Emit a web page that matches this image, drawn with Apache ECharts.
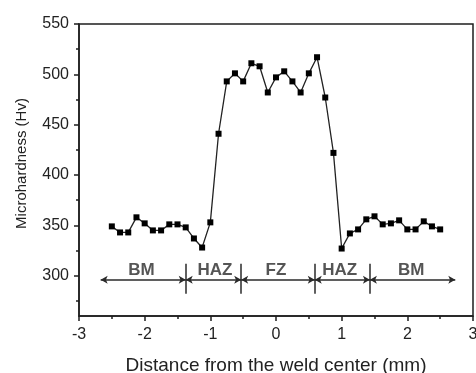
<!DOCTYPE html>
<html>
<head>
<meta charset="utf-8">
<script src="https://cdn.jsdelivr.net/npm/echarts@6/dist/echarts.min.js"></script>
<style>
  html, body { margin: 0; padding: 0; background: #fff; }
  #chart { width: 476px; height: 373px; }
</style>
</head>
<body>
<div id="chart"></div>
<script>
// measured points (mm from weld center, Hv)
const distance = [
  -2.5, -2.375, -2.25, -2.125, -2.0, -1.875, -1.75, -1.625, -1.5, -1.375, -1.25, -1.125, -1.0,
  -0.875, -0.75, -0.625, -0.5, -0.375, -0.25, -0.125, 0, 0.125, 0.25, 0.375, 0.5, 0.625, 0.75, 0.875,
  1.0, 1.125, 1.25, 1.375, 1.5, 1.625, 1.75, 1.875, 2.0, 2.125, 2.25, 2.375, 2.5
];
const hardness = [
  349, 343, 343, 358, 352, 345, 345, 351, 351, 348, 337, 328, 353,
  441, 493, 501, 493, 511, 508, 482, 497, 503, 493, 482, 501, 517, 477, 422,
  327, 342, 346, 356, 359, 351, 352, 355, 346, 346, 354, 349, 346
];

// zone markers
const zoneBounds = [-2.67, -1.375, -0.53, 0.59, 1.43, 2.73];
const zoneNames = ['BM', 'HAZ', 'FZ', 'HAZ', 'BM'];
const zoneLabelX = [-2.05, -0.93, 0.0, 0.97, 2.06];
const arrowY = 296;
const sepTop = 312, sepBottom = 282;
const labelY = 305;

const yMajor = [300, 350, 400, 450, 500, 550];
const yMinor = [275, 325, 375, 425, 475, 525];

const ink = '#1e1e1e';
const textColor = '#222';
const font = 'Liberation Sans';

const arrows = [];
for (let i = 0; i < zoneBounds.length - 1; i++) {
  arrows.push([{ coord: [zoneBounds[i], arrowY] }, { coord: [zoneBounds[i + 1], arrowY] }]);
}
const seps = zoneBounds.slice(1, -1).map(x => [
  { coord: [x, sepBottom] }, { coord: [x, sepTop] }
]);

const chart = echarts.init(document.getElementById('chart'));
chart.setOption({
  animation: false,
  grid: {
    left: 79, right: 3, top: 24, bottom: 57,
    outerBoundsMode: 'none',
    containLabel: false,
    show: true, borderColor: ink, borderWidth: 1.5
  },
  xAxis: {
    type: 'value', min: -3, max: 3, interval: 1,
    name: 'Distance from the weld center (mm)',
    nameLocation: 'middle', nameGap: 40,
    nameTextStyle: { fontFamily: font, fontSize: 19, color: textColor },
    axisLine: { onZero: false, lineStyle: { color: ink, width: 1.5 } },
    axisTick: { inside: false, length: 5, lineStyle: { color: ink, width: 1.5 } },
    minorTick: { show: true, splitNumber: 2, length: 3, lineStyle: { color: ink, width: 1.5 } },
    axisLabel: { fontFamily: font, fontSize: 16, color: textColor, margin: 11 },
    splitLine: { show: false }
  },
  yAxis: [
    {
      type: 'value', min: 260, max: 550,
      name: 'Microhardness (Hv)',
      nameLocation: 'middle', nameGap: 50,
      nameTextStyle: { fontFamily: font, fontSize: 15, color: textColor, padding: [0, 0, 0, 13] },
      axisLine: { show: true, onZero: false, lineStyle: { color: ink, width: 1.5 } },
      axisTick: { show: true, length: 5, customValues: yMajor, lineStyle: { color: ink, width: 1.5 } },
      axisLabel: { fontFamily: font, fontSize: 16, color: textColor, margin: 10, customValues: yMajor },
      splitLine: { show: false }
    },
    {
      type: 'value', min: 260, max: 550, position: 'left',
      axisLine: { show: false, onZero: false },
      axisTick: { show: true, length: 3, customValues: yMinor, lineStyle: { color: ink, width: 1.5 } },
      axisLabel: { show: false },
      splitLine: { show: false }
    }
  ],
  series: [
    {
      type: 'line',
      data: distance.map((d, i) => [d, hardness[i]]),
      symbol: 'rect', symbolSize: 6,
      itemStyle: { color: '#000' },
      lineStyle: { color: '#222', width: 1.3 }
    },
    {
      type: 'scatter',
      symbolSize: 0,
      data: zoneNames.map((n, i) => ({ name: n, value: [zoneLabelX[i], labelY] })),
      label: {
        show: true, position: 'inside', formatter: '{b}',
        fontFamily: font, fontSize: 17, fontWeight: 'bold', color: '#2a2a2a'
      },
      silent: true,
      markLine: {
        silent: true,
        symbol: ['arrow', 'arrow'],
        symbolSize: [6, 7],
        label: { show: false },
        lineStyle: { color: '#2a2a2a', width: 1.5, type: 'solid' },
        data: arrows
      }
    },
    {
      type: 'line',
      data: [],
      markLine: {
        silent: true,
        symbol: 'none',
        label: { show: false },
        lineStyle: { color: '#2a2a2a', width: 1.5, type: 'solid' },
        data: seps
      }
    }
  ]
});
</script>
</body>
</html>
